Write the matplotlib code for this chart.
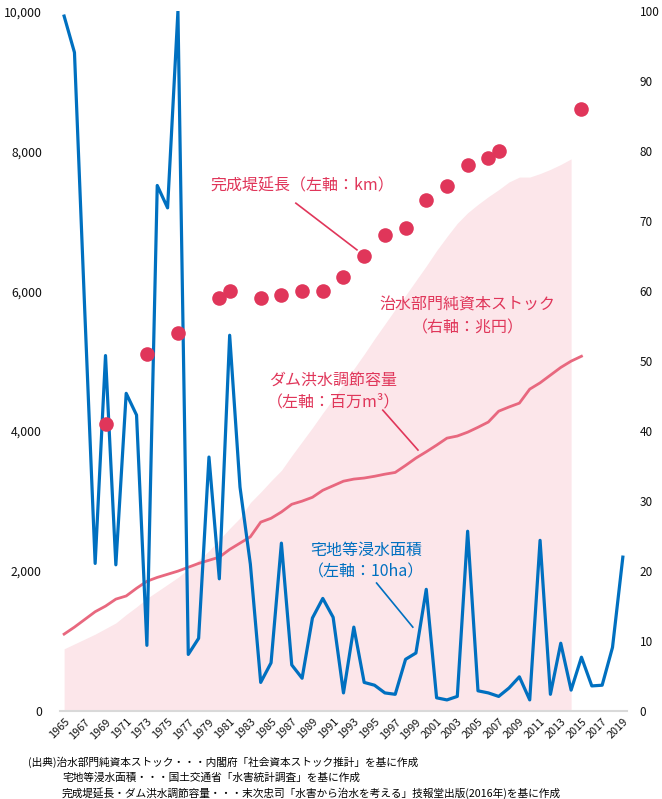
import matplotlib
matplotlib.use('Agg')
import matplotlib.pyplot as plt
import numpy as np

plt.rcParams['font.family'] = ['Noto Sans CJK JP', 'DejaVu Sans']

# --- data ---
years = np.arange(1965, 2020)

# 宅地等浸水面積 (left axis, 10ha)
flood_area = [9930, 9410, 5700, 2110, 5080, 2090, 4540, 4230, 940, 7510,
              7190, 10000, 810, 1040, 3630, 1890, 5370, 3200, 2100, 410,
              690, 2400, 660, 470, 1330, 1610, 1340, 260, 1200, 410,
              370, 260, 240, 740, 830, 1740, 190, 160, 210, 2570,
              290, 260, 210, 330, 490, 160, 2440, 240, 970, 300,
              770, 360, 370, 910, 2200]

# ダム洪水調節容量 (left axis, 百万m3), 1965-2015
dam_years = np.arange(1965, 2016)
dam_capacity = [1100, 1200, 1310, 1420, 1500, 1600, 1645, 1755, 1855, 1910,
                1955, 2000, 2055, 2110, 2155, 2200, 2310, 2400, 2490, 2700,
                2755, 2845, 2955, 3000, 3055, 3155, 3220, 3285, 3315, 3330,
                3355, 3385, 3410, 3510, 3615, 3705, 3800, 3900, 3930, 3985,
                4055, 4130, 4285, 4345, 4400, 4600, 4690, 4800, 4910, 5000,
                5070]

# 治水部門純資本ストック (right axis, 兆円), 1965-2014
stock_years = np.arange(1965, 2015)
stock = [8.9, 9.6, 10.3, 11.0, 11.8, 12.6, 13.8, 14.9, 16.1, 17.1,
         18.1, 19.1, 20.3, 21.6, 22.9, 24.5, 26.1, 27.6, 29.8, 31.3,
         32.9, 34.4, 36.5, 38.5, 40.5, 42.6, 44.6, 46.8, 48.9, 51.0,
         53.2, 55.3, 57.4, 59.4, 61.5, 63.6, 65.8, 67.8, 69.7, 71.2,
         72.4, 73.5, 74.5, 75.6, 76.3, 76.3, 76.8, 77.4, 78.1, 78.9]

# 完成堤延長 (left axis, km)
levee_years = [1969, 1973, 1976, 1980, 1981, 1984, 1986, 1988, 1990, 1992,
               1994, 1996, 1998, 2000, 2002, 2004, 2006, 2007, 2015]
levee_length = [4100, 5100, 5400, 5900, 6000, 5900, 5950, 6000, 6000, 6200,
                6500, 6800, 6900, 7300, 7500, 7800, 7900, 8000, 8600]

left_ticks = [0, 2000, 4000, 6000, 8000, 10000]
right_ticks = list(range(0, 101, 10))
year_ticks = list(range(1965, 2020, 2))

notes = [
    '(出典)治水部門純資本ストック・・・内閣府「社会資本ストック推計」を基に作成',
    '宅地等浸水面積・・・国土交通省「水害統計調査」を基に作成',
    '完成堤延長・ダム洪水調節容量・・・末次忠司「水害から治水を考える」技報堂出版(2016年)を基に作成',
]

BLUE = '#0070C0'
RED = '#E0365A'
PINK_LINE = '#E8687F'
PINK_FILL = '#FCE6EA'

fig = plt.figure(figsize=(6.62, 7.99), dpi=100)
ax = fig.add_axes([0.0906, 0.110, 0.8565, 0.876])
ax2 = ax.twinx()

# stock area on the right axis, kept behind the left-axis series
ax2.fill_between(stock_years, 0, stock, color=PINK_FILL, linewidth=0)
ax2.set_ylim(0, 100)
ax2.set_yticks(right_ticks)
ax.set_zorder(ax2.get_zorder() + 1)
ax.patch.set_visible(False)

ax.plot(dam_years, dam_capacity, color=PINK_LINE, linewidth=2.0, zorder=2)
ax.plot(years, flood_area, color=BLUE, linewidth=2.3, zorder=3)
ax.plot(levee_years, levee_length, 'o', color=RED, markersize=10.5,
        markeredgewidth=0, zorder=4)

ax.set_xlim(1964.6, 2019.4)
ax.set_ylim(0, 10000)
ax.set_yticks(left_ticks)
ax.set_yticklabels(['{:,}'.format(v) for v in left_ticks])
ax.set_xticks(year_ticks)
ax.set_xticklabels([str(y) for y in year_ticks], rotation=45, ha='right',
                   rotation_mode='anchor')

for a in (ax, ax2):
    for s in a.spines.values():
        s.set_visible(False)
    a.tick_params(length=0, labelsize=8.8, colors='#111111')
ax.spines['bottom'].set_visible(True)
ax.spines['bottom'].set_color('#D9D9D9')
ax.spines['bottom'].set_linewidth(1.5)
ax.tick_params(axis='x', labelsize=7.8, pad=4)
ax.tick_params(axis='y', pad=13)
ax2.tick_params(axis='y', pad=9, labelsize=8.5)

# annotations
ax.text(1988.0, 7500, '完成堤延長（左軸：km）', color=RED, fontsize=11.5,
        ha='center', va='center')
ax.plot([1987.4, 1993.3], [7257, 6590], color=RED, linewidth=1.2)

ax.text(2004.0, 5800, '治水部門純資本ストック', color=RED, fontsize=11.5,
        ha='center', va='center')
ax.text(2004.0, 5470, '（右軸：兆円）', color=RED, fontsize=11.5,
        ha='center', va='center')

ax.text(1991.0, 4730, 'ダム洪水調節容量', color=RED, fontsize=11.5,
        ha='center', va='center')
ax.text(1991.0, 4410, '（左軸：百万m³）', color=RED, fontsize=11.5,
        ha='center', va='center')
ax.plot([1995.8, 1999.2], [4300, 3730], color=RED, linewidth=1.2)

ax.text(1994.2, 2300, '宅地等浸水面積', color=BLUE, fontsize=11.5,
        ha='center', va='center')
ax.text(1994.2, 1990, '（左軸：10ha）', color=BLUE, fontsize=11.5,
        ha='center', va='center')
ax.plot([1995.2, 1998.7], [1830, 1200], color=BLUE, linewidth=1.2)

# source notes
fig.text(28 / 662, 1 - 762 / 799, notes[0], fontsize=7.7, va='center')
fig.text(62 / 662, 1 - 778 / 799, notes[1], fontsize=7.7, va='center')
fig.text(62 / 662, 1 - 793 / 799, notes[2], fontsize=7.7, va='center')

fig.savefig('out.png', dpi=100)
